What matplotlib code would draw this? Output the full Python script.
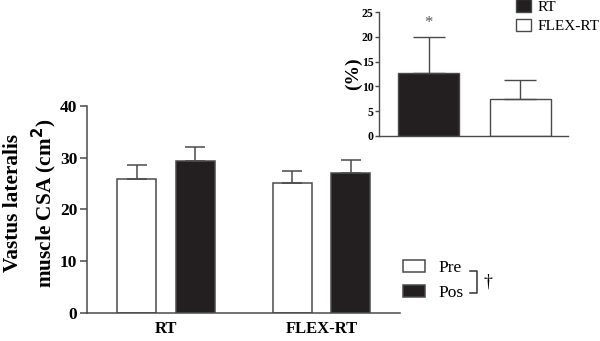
import matplotlib
matplotlib.use("Agg")
import matplotlib.pyplot as plt
from matplotlib.patches import Patch
from matplotlib.lines import Line2D
import numpy as np

plt.rcParams["font.family"] = ["Liberation Serif", "DejaVu Serif"]

# Main panel: muscle cross-sectional area before and after training
groups = ["RT", "FLEX-RT"]
pre_mean = [25.8, 25.1]
pre_sd = [2.7, 2.4]
pos_mean = [29.4, 27.0]
pos_sd = [2.7, 2.5]

# Inset: relative change (%)
inset_groups = ["RT", "FLEX-RT"]
change_mean = [12.8, 7.5]
change_sd = [7.1, 3.7]

dark = "#231f20"
edge = "#4a4a4a"

W, H = 600, 341
fig = plt.figure(figsize=(W / 100, H / 100), dpi=100)


def fx(px):
    return px / W


def fy(py):
    return 1 - py / H


ax = fig.add_axes([0.145, 0.082, 0.522, 0.608])
x = np.arange(len(groups))
off, w = 0.188, 0.25
ekw = dict(ecolor=edge, elinewidth=1.1, capsize=7.3, capthick=1.1)
ax.bar(x - off, pre_mean, w, color="white", edgecolor=edge, linewidth=1.1,
       yerr=[[0] * len(pre_sd), pre_sd], error_kw=ekw, label="Pre", zorder=2)
ax.bar(x + off, pos_mean, w, color=dark, edgecolor=edge, linewidth=1.1,
       yerr=[[0] * len(pos_sd), pos_sd], error_kw=ekw, label="Pos", zorder=2)
ax.set_xlim(-0.506, 1.504)
ax.set_ylim(0, 40)
ax.set_yticks([0, 10, 20, 30, 40])
ax.set_xticks(x)
ax.set_xticklabels(groups, fontsize=12, fontweight="bold")
ax.tick_params(axis="x", length=0, pad=6)
ax.tick_params(axis="y", length=5, width=1.1, color=edge, labelsize=12.5, pad=2)
for lab in ax.get_yticklabels():
    lab.set_fontweight("bold")
for s in ["top", "right"]:
    ax.spines[s].set_visible(False)
for s in ["left", "bottom"]:
    ax.spines[s].set_color(edge)
    ax.spines[s].set_linewidth(1.1)
fig.text(fx(31), fy(203), "Vastus lateralis\nmuscle CSA (cm$^\\mathbf{2}$)", fontsize=15.3,
         fontweight="bold", linespacing=1.3, rotation=90, ha="center", va="center")

ax.legend(loc="upper left", bbox_to_anchor=(fx(403), fy(260)), bbox_transform=fig.transFigure,
          frameon=False, fontsize=12.5, handlelength=1.27, handleheight=0.69,
          handletextpad=0.75, labelspacing=0.52, borderpad=0, borderaxespad=0)

# bracket joining Pre and Pos, with significance mark
bx0, bx1, by0, by1 = 470, 477, 271, 293
fig.add_artist(Line2D([fx(bx0), fx(bx1), fx(bx1), fx(bx0)],
                      [fy(by0), fy(by0), fy(by1), fy(by1)],
                      color="#333333", linewidth=1.1, transform=fig.transFigure))
fig.text(fx(488), fy(282), "\u2020", fontsize=13, ha="center", va="center")

# Inset panel
ax2 = fig.add_axes([0.632, 0.602, 0.315, 0.362])
xi = np.arange(len(inset_groups))
ax2.bar(xi, change_mean, 0.67, color=[dark, "white"], edgecolor=edge, linewidth=1.0,
        yerr=[[0] * len(change_sd), change_sd],
        error_kw=dict(ecolor=edge, elinewidth=1.0, capsize=11.4, capthick=1.0), zorder=2)
ax2.text(xi[0], change_mean[0] + change_sd[0] + 3.0, "*", ha="center", va="center",
         fontsize=12, color="#555555")
ax2.set_xlim(-0.541, 1.525)
ax2.set_ylim(0, 25)
ax2.set_yticks([0, 5, 10, 15, 20, 25])
ax2.set_xticks([])
ax2.tick_params(axis="y", length=3, width=1.0, color=edge, labelsize=8.5, pad=1)
for lab in ax2.get_yticklabels():
    lab.set_fontweight("bold")
for s in ["top", "right"]:
    ax2.spines[s].set_visible(False)
for s in ["left", "bottom"]:
    ax2.spines[s].set_color(edge)
    ax2.spines[s].set_linewidth(1.0)
ax2.set_ylabel("(%)", fontsize=14, fontweight="bold", labelpad=0)

handles = [Patch(facecolor=dark, edgecolor=edge, label=inset_groups[0]),
           Patch(facecolor="white", edgecolor=edge, label=inset_groups[1])]
fig.legend(handles=handles, loc="upper left", bbox_to_anchor=(fx(515.7), fy(-1)),
           frameon=False, fontsize=11, handlelength=0.98, handleheight=0.92,
           handletextpad=0.46, labelspacing=0.32, borderpad=0, borderaxespad=0)

fig.savefig("out.png", dpi=100)
